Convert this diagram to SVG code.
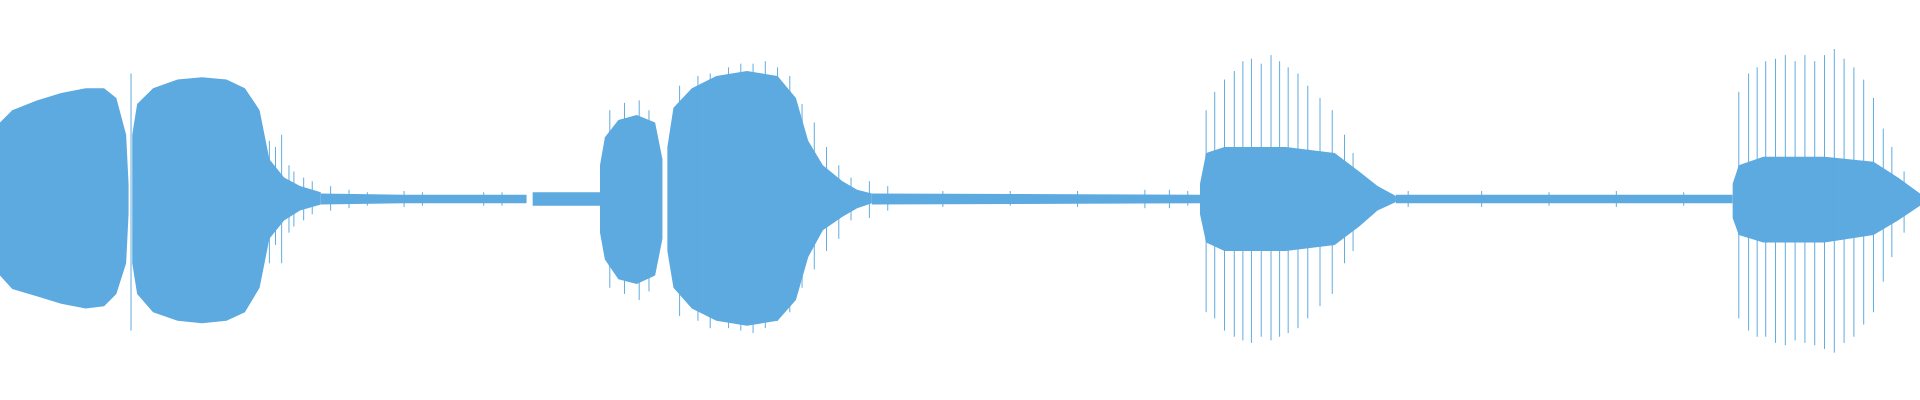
<svg xmlns="http://www.w3.org/2000/svg" width="1920" height="400" viewBox="0 0 1920 400">
<style>.f{fill:#5DAAE0}.s{stroke:#5DAAE0;stroke-width:0.8;fill:none}</style>
<rect width="1920" height="400" fill="#fff"/>
<g transform="scale(1.2245)">
<path class="f" d="M0,100 L10,90 L30,82 L50,76 L70,72 L85,72 L95,80 L103,110 L105,150 L105,175 L103,215 L95,240 L85,250 L70,252 L50,248 L30,242 L10,236 L0,225 Z"/>
<path class="f" d="M108,110 L112,85 L125,72 L145,65 L165,63 L185,65 L200,72 L212,90 L220,130 L232,145 L245,152 L262,157 L262,167 L245,172 L232,180 L220,195 L212,235 L200,255 L185,262 L165,264 L145,262 L125,255 L112,240 L108,215 Z"/>
<path class="f" d="M490,135 L494,112 L505,98 L520,94 L535,100 L541,130 L541,195 L535,225 L520,232 L505,228 L494,212 L490,190 Z"/>
<path class="f" d="M545,120 L550,88 L565,72 L585,62 L610,58 L635,62 L650,80 L660,115 L672,135 L688,148 L700,155 L712,158 L712,166 L700,170 L688,177 L672,188 L660,210 L650,245 L635,262 L610,266 L585,262 L565,252 L550,235 L545,205 Z"/>
<path class="f" d="M980,150 L985,125 L1000,120 L1050,120 L1090,125 L1110,140 L1125,152 L1140,160 L1140,165 L1125,172 L1110,185 L1090,200 L1050,205 L1000,205 L985,198 L980,175 Z"/>
<path class="f" d="M1415,150 L1420,135 L1440,128 L1490,128 L1530,132 L1550,145 L1568,158 L1568,168 L1550,180 L1530,192 L1490,198 L1440,198 L1420,192 L1415,178 Z"/>
<path class="f" d="M262,158 L330,159 L380,159 L430,159 L430,166 L380,166 L330,166 L262,167 Z M435,157 L490,157 L490,168 L435,168 Z M712,158 L980,159 L980,166 L712,167 Z M1140,159 L1415,159 L1415,166 L1140,166 Z"/>
<path class="s" d="M107,60 V270 M220,115 V215 M225,120 V200 M230,110 V215 M236,135 V190 M240,140 V185 M248,145 V180 M255,148 V175 M270,152 V172 M285,155 V170 M300,157 V168 M330,156 V169 M345,157 V168 M395,157 V168 M410,157 V168 M498,90 V235 M510,84 V240 M522,82 V245 M530,90 V238 M555,70 V258 M570,62 V262 M580,60 V268 M595,55 V268 M605,52 V270 M615,52 V272 M625,50 V268 M635,55 V262 M645,62 V255 M655,85 V235 M665,100 V220 M675,120 V205 M685,135 V195 M695,145 V180 M710,148 V178 M725,152 V172 M770,156 V169 M825,156 V168 M880,156 V169 M935,155 V170 M955,155 V170 M970,156 V168 M985,90 V255 M992,75 V260 M1000,65 V270 M1008,58 V275 M1015,50 V278 M1022,48 V280 M1030,52 V275 M1038,45 V278 M1045,50 V275 M1052,55 V272 M1060,60 V268 M1068,70 V260 M1078,80 V250 M1088,90 V240 M1098,110 V215 M1105,125 V205 M1150,156 V169 M1210,156 V169 M1265,157 V168 M1320,156 V169 M1375,157 V168 M1420,75 V260 M1428,60 V270 M1435,55 V275 M1442,50 V275 M1450,48 V280 M1458,45 V282 M1466,50 V278 M1474,45 V280 M1482,50 V282 M1490,45 V285 M1498,40 V288 M1506,48 V280 M1514,55 V275 M1522,65 V265 M1530,80 V255 M1538,105 V230 M1545,120 V210 M1555,140 V190"/>
</g>
</svg>
